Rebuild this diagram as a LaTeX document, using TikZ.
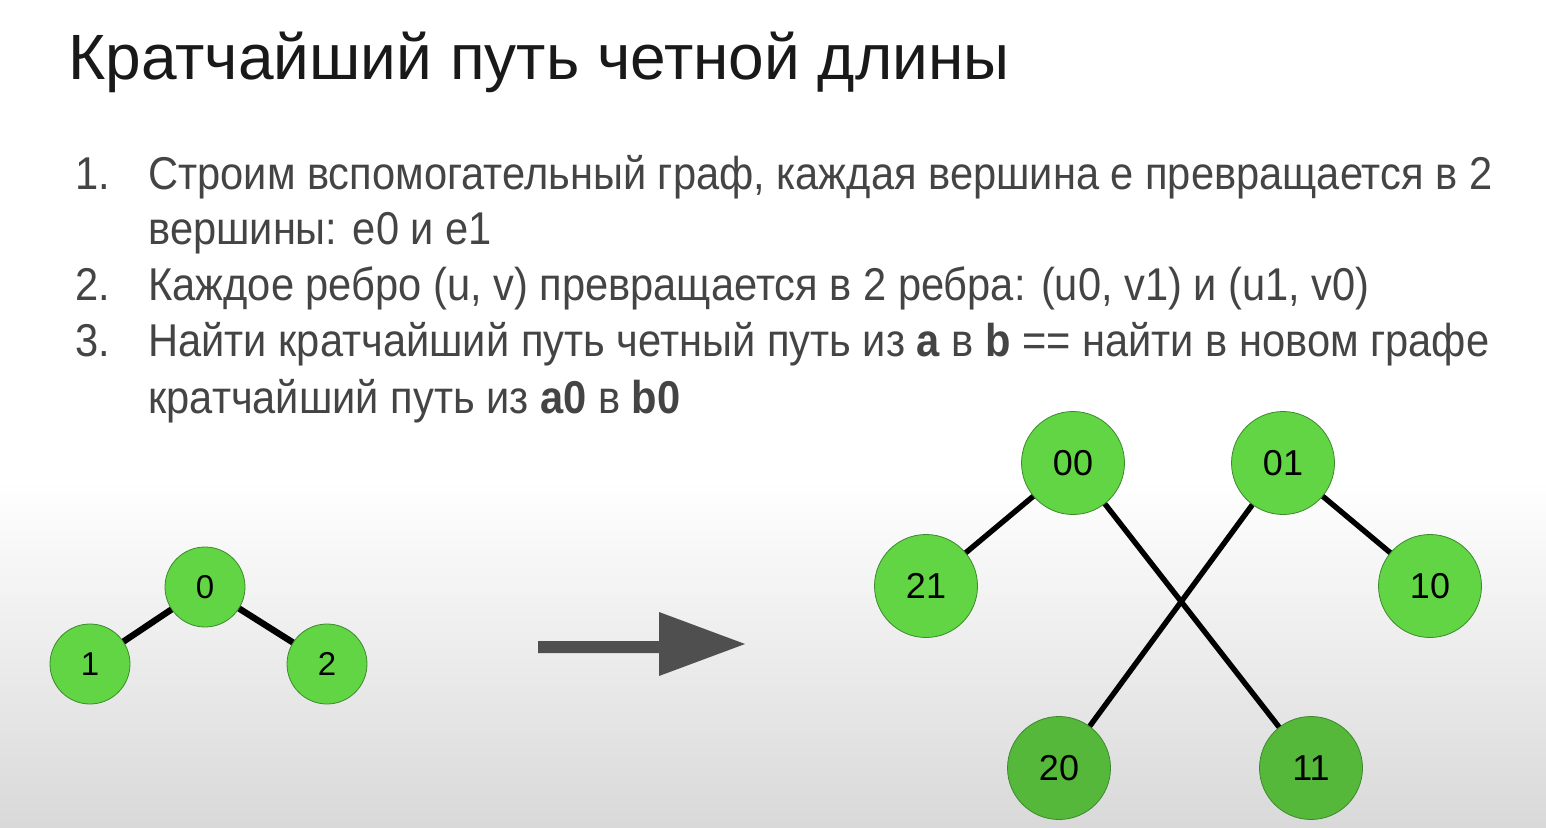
\documentclass[tikz,border=0pt]{standalone}
\usepackage{fontspec}
\setmainfont{Liberation Sans}
\newfontfamily\bodyfont[FakeStretch=0.905]{Liberation Sans}
\usetikzlibrary{positioning}
\definecolor{nodegreen}{HTML}{62D544}
\definecolor{nodegreendark}{HTML}{55B83B}
\definecolor{nodeborder}{HTML}{3C8A2C}
\definecolor{bodygray}{HTML}{444444}
\definecolor{arrowgray}{HTML}{4F4F4F}
\begin{document}
\begin{tikzpicture}[x=0.5pt, y=-0.5pt,
    title/.style={anchor=base west, inner sep=0, font=\fontsize{32}{38}\selectfont, text=black!90},
    item/.style={anchor=base west, inner sep=0, font=\bodyfont\fontsize{23}{28}\selectfont, text=bodygray},
    small/.style={draw=nodeborder, circle, fill=nodegreen, minimum size=40pt, inner sep=0, font=\fontsize{16.5}{20}\selectfont},
    big/.style={draw=nodeborder, circle, fill=nodegreen, minimum size=51.5pt, inner sep=0, font=\fontsize{18}{21}\selectfont},
    edge/.style={line width=2.7pt, black}]
    % background
    \fill[white] (0, 0) rectangle (1546, 480);
    \shade[top color=white, bottom color=black!15] (0, 480) rectangle (1546, 828);
    \useasboundingbox (0, 0) rectangle (1546, 828);

    % title and list
    \node (title) [title] at (68, 80) {Кратчайший путь четной длины};
    \node (n1) [item] at (75, 190) {1.};
    \node (t1) [item] at (148, 190) {Строим вспомогательный граф, каждая вершина е превращается в 2};
    \node (t1b) [item] at (148, 245) {вершины: е0 и е1};
    \node (n2) [item] at (75, 301) {2.};
    \node (t2) [item] at (148, 301) {Каждое ребро (u, v) превращается в 2 ребра: (u0, v1) и (u1, v0)};
    \node (n3) [item] at (75, 357) {3.};
    \node (t3) [item] at (148, 357) {Найти кратчайший путь четный путь из \textbf{a} в \textbf{b} == найти в новом графе};
    \node (t3b) [item] at (148, 413) {кратчайший путь из \textbf{a0} в \textbf{b0}};

    % small graph
    \node (v0) [small] at (205, 587) {0};
    \node (v1) [small] at (90, 664) {1};
    \node (v2) [small] at (327, 664) {2};
    \draw[edge, line width=3.2pt] (v0) -- (v1);
    \draw[edge, line width=3.2pt] (v0) -- (v2);

    % big arrow
    \fill[arrowgray] (538, 641) -- (659, 641) -- (659, 612) -- (745, 644) -- (659, 676) -- (659, 653) -- (538, 653) -- cycle;

    % doubled graph
    \node (u00) [big] at (1073, 463) {00};
    \node (u01) [big] at (1283, 463) {01};
    \node (u21) [big] at (926, 586) {21};
    \node (u10) [big] at (1430, 586) {10};
    \node (u20) [big, fill=nodegreendark] at (1059, 768) {20};
    \node (u11) [big, fill=nodegreendark] at (1311, 768) {11};
    \draw[edge] (u00) -- (u21);
    \draw[edge] (u00) -- (u11);
    \draw[edge] (u01) -- (u20);
    \draw[edge] (u01) -- (u10);
\end{tikzpicture}
\end{document}
